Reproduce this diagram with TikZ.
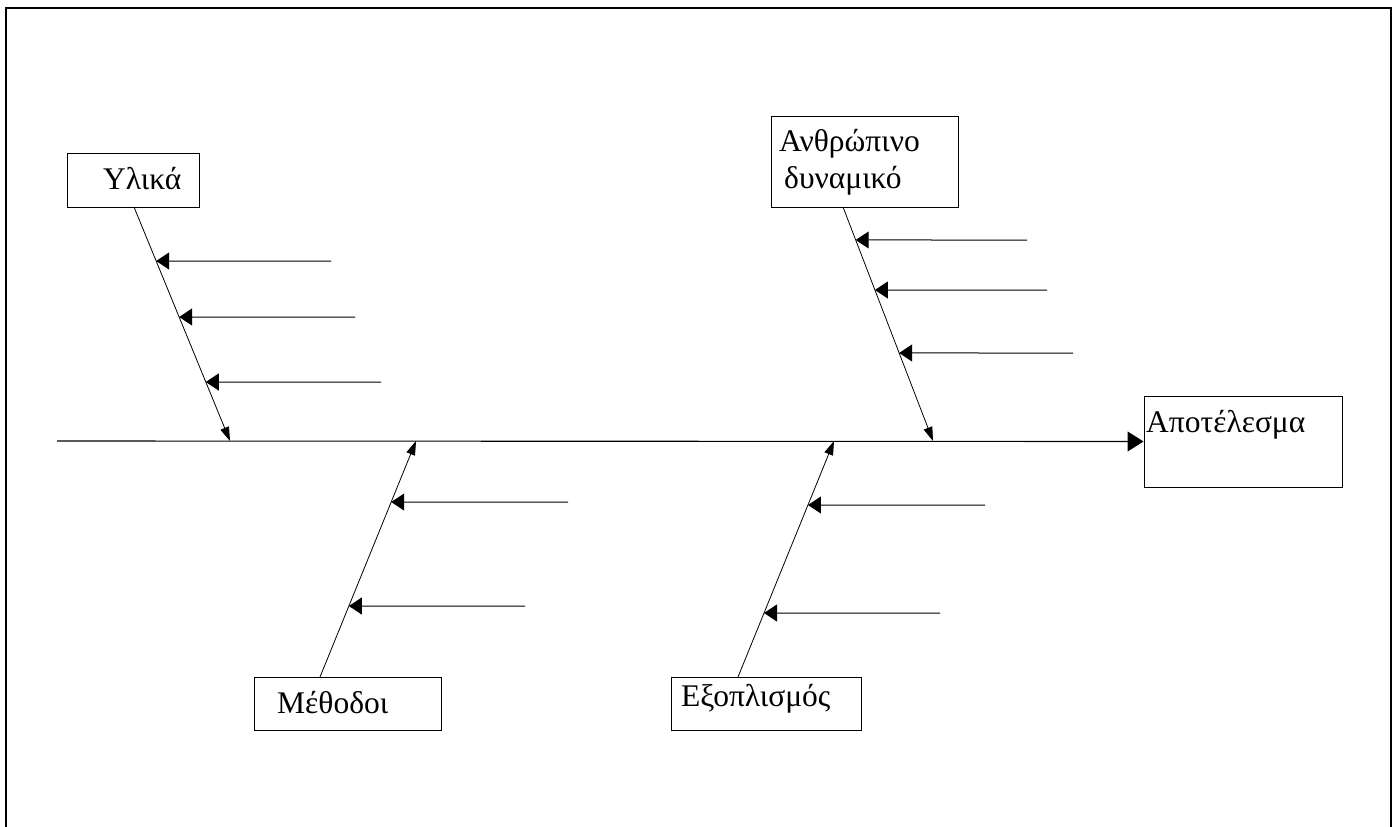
\documentclass[tikz,border=0pt]{standalone}
\usepackage{fontspec}
\setmainfont{Liberation Serif}
\usetikzlibrary{arrows.meta,calc}
\begin{document}
\begin{tikzpicture}[x=1pt,y=-1pt,
  box/.style={draw,line width=1pt,rectangle,inner sep=0pt},
  lbl/.style={inner sep=0pt,anchor=base west,font=\fontsize{31.5}{37}\selectfont},
  bone/.style={line width=0.8pt,-{Triangle[length=14pt,width=9pt]}},
  cause/.style={line width=1pt,-{Triangle[length=13pt,width=17pt]}},
  spine/.style={line width=1.1pt,-{Triangle[length=16pt,width=20pt]}},
  frame/.style={line width=2pt}]
\useasboundingbox (0,0) rectangle (1398,827);
% outer frame (open at bottom)
\draw[frame] (6,830) -- (6,8) -- (1391,8) -- (1391,830);
% boxes
\node[box,minimum width=132pt,minimum height=54pt] (ylika) at (133,180) {};
\node[box,minimum width=187pt,minimum height=91pt] (anthr) at (864.5,161.5) {};
\node[box,minimum width=198pt,minimum height=91pt] (res) at (1243,441.5) {};
\node[box,minimum width=187pt,minimum height=53pt] (meth) at (347.5,703.5) {};
\node[box,minimum width=190pt,minimum height=53pt] (equip) at (766,703.5) {};
% labels
\node[lbl] (ylikaT) at (103,189) {Υλικά};
\node[lbl] (anthrT1) at (779,151) {Ανθρώπινο};
\node[lbl] (anthrT2) at (784,188) {δυναμικό};
\node[lbl] (resT) at (1146,432) {Αποτέλεσμα};
\node[lbl] (methT) at (277,713) {Μέθοδοι};
\node[lbl] (equipT) at (681,706) {Εξοπλισμός};
% spine
\coordinate (s0) at (57,441);
\draw[spine] (s0) -- (res.west);
% bone start and end points
\coordinate (y0) at (134,207);  \coordinate (y1) at (230,441);
\coordinate (a0) at (843,207);  \coordinate (a1) at (933,441);
\coordinate (m0) at (320,677);  \coordinate (m1) at (416,441);
\coordinate (e0) at (738,677);  \coordinate (e1) at (834,441);
\draw[bone] (y0) -- (y1);
\draw[bone] (a0) -- (a1);
\draw[bone] (m0) -- (m1);
\draw[bone] (e0) -- (e1);
% cause arrows: Υλικά
\coordinate (yt1) at (331,261); \coordinate (yt2) at (355,317); \coordinate (yt3) at (381,382);
\draw[cause] (yt1) -- ($(y0)!0.2308!(y1)$);
\draw[cause] (yt2) -- ($(y0)!0.4701!(y1)$);
\draw[cause] (yt3) -- ($(y0)!0.7479!(y1)$);
% cause arrows: Ανθρώπινο δυναμικό
\coordinate (at1) at (1027,240); \coordinate (at2) at (1047,290); \coordinate (at3) at (1073,353);
\draw[cause] (at1) -- ($(a0)!0.1410!(a1)$);
\draw[cause] (at2) -- ($(a0)!0.3547!(a1)$);
\draw[cause] (at3) -- ($(a0)!0.6239!(a1)$);
% cause arrows: Μέθοδοι
\coordinate (mt1) at (568,502); \coordinate (mt2) at (525,606);
\draw[cause] (mt1) -- ($(m0)!0.7415!(m1)$);
\draw[cause] (mt2) -- ($(m0)!0.3008!(m1)$);
% cause arrows: Εξοπλισμός
\coordinate (et1) at (985,505); \coordinate (et2) at (940,613);
\draw[cause] (et1) -- ($(e0)!0.7288!(e1)$);
\draw[cause] (et2) -- ($(e0)!0.2712!(e1)$);
\end{tikzpicture}
\end{document}
